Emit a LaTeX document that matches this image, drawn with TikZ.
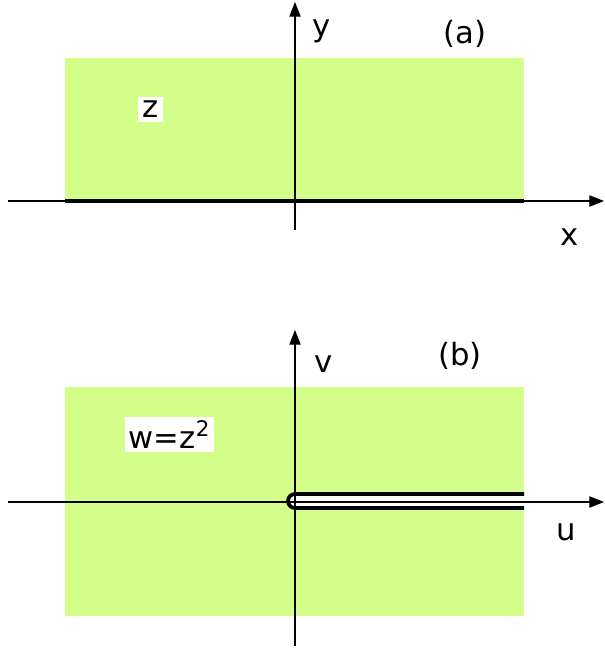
\documentclass[tikz,border=0pt]{standalone}
\usepackage{fontspec}
\setmainfont{DejaVu Sans}
\usetikzlibrary{arrows.meta}
\definecolor{regiongreen}{RGB}{212,254,138}
\begin{document}
\begin{tikzpicture}[x=0.75pt,y=-0.75pt,
  axis/.style={line width=0.8pt,-{Triangle[length=11pt,width=8.5pt]}},
  lbl/.style={font=\fontsize{23}{27}\selectfont,inner sep=0pt},
  boxlbl/.style={lbl,fill=white,inner xsep=3pt,inner ysep=0pt},
  thickline/.style={line width=2.8pt}]
\useasboundingbox (0,0) rectangle (604,650);
% (a)
\fill[regiongreen] (65,58) rectangle (524,201);
\coordinate (xa0) at (8,201);
\coordinate (xa1) at (604,201);
\coordinate (ya0) at (295,230);
\coordinate (ya1) at (295,2);
\coordinate (ea0) at (65,201);
\coordinate (ea1) at (524,201);
\draw[axis] (xa0) -- (xa1);
\draw[axis] (ya0) -- (ya1);
\draw[thickline] (ea0) -- (ea1);
\node[lbl] (ylab) at (322,31) {y};
\node[lbl] (alab) at (465,34) {(a)};
\node[boxlbl,minimum width=18.75pt,minimum height=18.75pt] (zlab) at (150.5,109.5) {z};
\node[lbl] (xlab) at (570,237) {x};
% (b)
\fill[regiongreen] (65,387) rectangle (524,616);
\fill[white] (524,494) -- (295,494) arc[start angle=90,end angle=270,radius=5.25pt] -- (524,508) -- cycle;
\coordinate (ub0) at (8,502);
\coordinate (ub1) at (604,502);
\coordinate (vb0) at (295,646);
\coordinate (vb1) at (295,330);
\draw[axis] (ub0) -- (ub1);
\draw[axis] (vb0) -- (vb1);
\coordinate (s0) at (524,494);
\coordinate (s1) at (295,494);
\coordinate (s2) at (524,508);
\draw[thickline] (s0) -- (s1) arc[start angle=90,end angle=270,radius=5.25pt] -- (s2);
\node[lbl] (vlab) at (324,364) {v};
\node[lbl] (blab) at (460,356) {(b)};
\node[boxlbl,minimum height=26pt,minimum width=66.75pt] (wlab) at (169.5,434.5) {w=z$^{\mathrm{2}}$};
\node[lbl] (ulab) at (566,532) {u};
\end{tikzpicture}
\end{document}
